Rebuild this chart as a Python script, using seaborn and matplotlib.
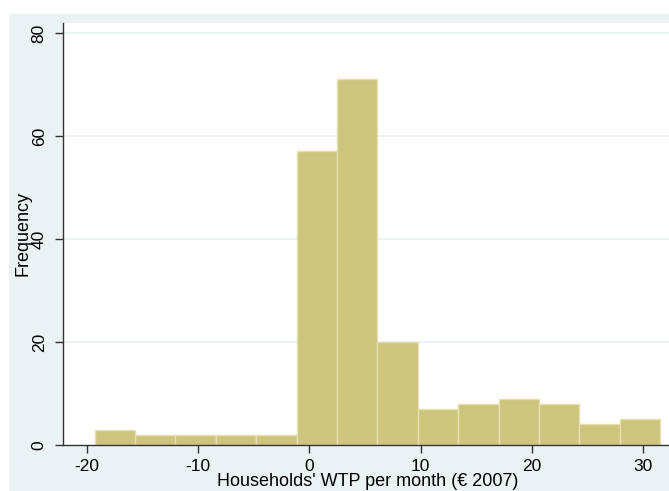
import numpy as np
import pandas as pd
import matplotlib
matplotlib.use("Agg")
import matplotlib.pyplot as plt
from matplotlib.patches import Rectangle
import seaborn as sns

sns.set_style("white")
plt.rcParams['font.family'] = ['Liberation Sans', 'DejaVu Sans']
plt.rcParams['axes.unicode_minus'] = False
plt.rcParams['text.color'] = 'black'
plt.rcParams['axes.labelcolor'] = 'black'
plt.rcParams['xtick.color'] = 'black'
plt.rcParams['ytick.color'] = 'black'

# histogram bins
bin_start = -19.28
bin_width = 3.628
counts = [3, 2, 2, 2, 2, 57, 71, 20, 7, 8, 9, 8, 4, 5]
x_ticks = [-20, -10, 0, 10, 20, 30]
y_ticks = [0, 20, 40, 60, 80]

edges = bin_start + bin_width * np.arange(len(counts) + 1)
df = pd.DataFrame({"wtp": (edges[:-1] + edges[1:]) / 2, "n": counts})

bg = "#eaf2f3"
fig = plt.figure(figsize=(6.69, 4.91), dpi=100, facecolor="white")
fig.patches.append(Rectangle((9 / 669, 0), 1, 1 - 14 / 491, transform=fig.transFigure,
                             facecolor=bg, edgecolor="none", zorder=-10))
ax = fig.add_axes([63.3 / 669, 46 / 491, 1 - 63.3 / 669, (445 - 22.7) / 491])
ax.set_facecolor("white")

for y in y_ticks[1:]:
    ax.axhline(y, color=bg, lw=1.3, zorder=0)

sns.histplot(data=df, x="wtp", weights="n", bins=list(edges), ax=ax, stat="count",
             color="#cdc47d", edgecolor="#e6e0b0", linewidth=1.0, alpha=1, zorder=2)

ax.set_xlim(-22.1, 32.3)
ax.set_ylim(0, 82)
ax.set_xticks(x_ticks)
ax.set_yticks(y_ticks)
ax.set_yticklabels([str(v) for v in y_ticks], rotation=90, va="center")
ax.tick_params(axis="both", direction="out", length=6, width=1, color="#333333",
               labelsize=12.5, labelcolor="black", bottom=True, left=True)
ax.tick_params(axis="x", pad=4)
ax.tick_params(axis="y", pad=6)
for s in ["top", "right"]:
    ax.spines[s].set_visible(False)
for s in ["left", "bottom"]:
    ax.spines[s].set_color("#333333")
    ax.spines[s].set_linewidth(1)

ax.set_xlabel("Households' WTP per month (€ 2007)", fontsize=13)
ax.set_ylabel("Frequency", fontsize=13)
ax.xaxis.set_label_coords(0.503, -0.066)
ax.yaxis.set_label_coords(-0.052, 0.5)

fig.savefig("out.png", dpi=100, facecolor="white")
